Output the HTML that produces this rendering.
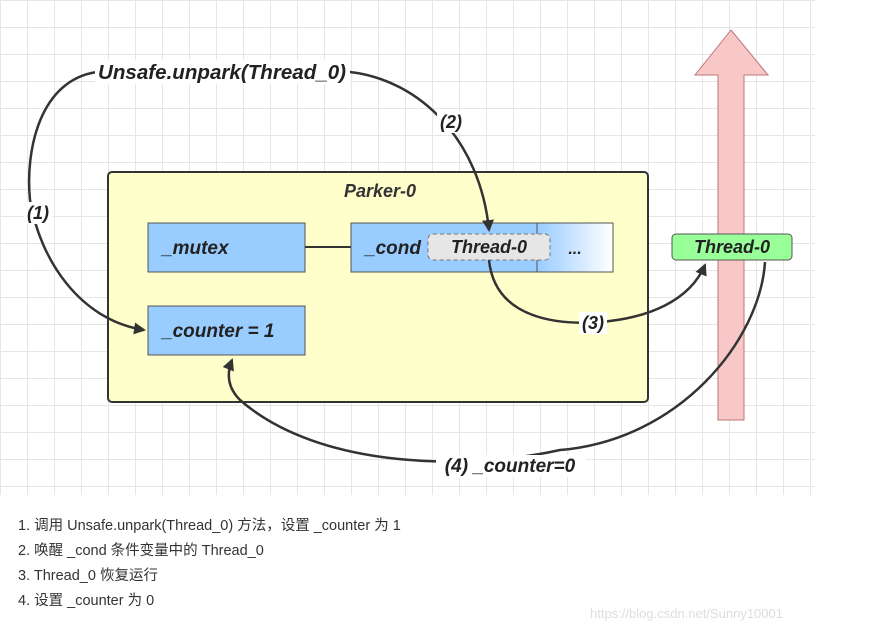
<!DOCTYPE html>
<html><head><style>
body{margin:0;width:881px;height:619px;background:#fff;overflow:hidden;font-family:"Liberation Sans","Noto Sans CJK SC",sans-serif}
.grid{position:absolute;left:0;top:0;width:815px;height:495px;background-image:linear-gradient(#e6e6e6 1px,transparent 1px),linear-gradient(90deg,#e6e6e6 1px,transparent 1px);background-size:27px 27px}
.t{position:absolute;left:18px;font-size:14.5px;color:#333;line-height:25px}
</style></head><body>
<div class="grid"></div>
<svg width="881" height="619" style="position:absolute;left:0;top:0" font-family="Liberation Sans, sans-serif" font-style="italic" font-weight="bold">
<defs><marker id="a" markerWidth="12" markerHeight="12" refX="10" refY="6" orient="auto" markerUnits="userSpaceOnUse" viewBox="0 0 12 12"><path d="M0,0 L12,6 L0,12 z" fill="#333"/></marker>
<linearGradient id="g" x1="0" x2="1"><stop offset="0" stop-color="#99ccff"/><stop offset="1" stop-color="#fff"/></linearGradient></defs>
<polygon points="731,30 768,75 744,75 744,420 718,420 718,75 695,75" fill="#f8c8c8" stroke="#b77" stroke-width="1"/>
<rect x="108" y="172" width="540" height="230" rx="4" fill="#ffffcc" stroke="#333" stroke-width="2"/>
<text x="380" y="197" font-size="18" fill="#333" text-anchor="middle">Parker-0</text>
<rect x="148" y="223" width="157" height="49" fill="#99ccff" stroke="#555"/>
<text x="162" y="254" font-size="19" fill="#222">_mutex</text>
<line x1="305" y1="247" x2="351" y2="247" stroke="#333" stroke-width="2"/>
<rect x="351" y="223" width="186" height="49" fill="#99ccff" stroke="#555"/>
<rect x="537" y="223" width="76" height="49" fill="url(#g)" stroke="#555"/>
<text x="365" y="254" font-size="19" fill="#222">_cond</text>
<rect x="428" y="234" width="122" height="26" rx="5" fill="#e6e6e6" stroke="#777" stroke-dasharray="4,3"/>
<text x="489" y="253" font-size="18" fill="#222" text-anchor="middle">Thread-0</text>
<text x="575" y="254" font-size="16" fill="#222" text-anchor="middle">...</text>
<rect x="148" y="306" width="157" height="49" fill="#99ccff" stroke="#555"/>
<text x="162" y="337" font-size="19" fill="#222">_counter = 1</text>
<rect x="672" y="234" width="120" height="26" rx="4" fill="#99ff99" stroke="#555"/>
<text x="732" y="253" font-size="18" fill="#222" text-anchor="middle">Thread-0</text>
<g fill="none" stroke="#333" stroke-width="2.5">
<path d="M97,72 C40,80 25,150 30,200 C40,260 80,320 144,330" marker-end="url(#a)"/>
<path d="M350,72 C420,80 480,140 489,230" marker-end="url(#a)"/>
<path d="M489,260 C495,320 560,325 600,322 C650,318 690,300 705,265" marker-end="url(#a)"/>
<path d="M765,262 C760,340 680,440 560,450 C470,470 320,470 240,400 C225,385 228,370 232,360" marker-end="url(#a)"/>
</g>
<rect x="95" y="60" width="255" height="24" fill="#fff"/>
<text x="222" y="79" font-size="20" fill="#222" text-anchor="middle" textLength="248" lengthAdjust="spacingAndGlyphs">Unsafe.unpark(Thread_0)</text>
<rect x="24" y="202" width="28" height="22" fill="#fff"/><text x="38" y="219" font-size="18" fill="#222" text-anchor="middle">(1)</text>
<rect x="437" y="111" width="28" height="22" fill="#fff"/><text x="451" y="128" font-size="18" fill="#222" text-anchor="middle">(2)</text>
<rect x="579" y="312" width="28" height="22" fill="#fff"/><text x="593" y="329" font-size="18" fill="#222" text-anchor="middle">(3)</text>
<rect x="436" y="455" width="150" height="22" fill="#fff"/><text x="510" y="472" font-size="19" fill="#222" text-anchor="middle">(4) _counter=0</text>
</svg>
<div class="t" style="top:514px">1. 调用 Unsafe.unpark(Thread_0) 方法，设置 _counter 为 1</div>
<div class="t" style="top:539px">2. 唤醒 _cond 条件变量中的 Thread_0</div>
<div class="t" style="top:564px">3. Thread_0 恢复运行</div>
<div class="t" style="top:589px">4. 设置 _counter 为 0</div>
<div style="position:absolute;left:590px;top:606px;font-size:13px;color:#ddd">https://blog.csdn.net/Sunny10001</div>
</body></html>
